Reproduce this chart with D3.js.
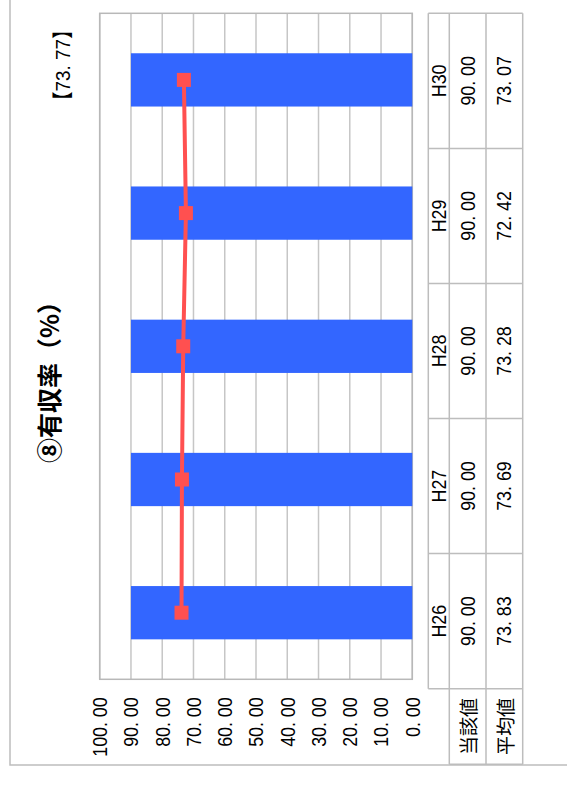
<!DOCTYPE html>
<html><head><meta charset="utf-8">
<script src="https://cdn.jsdelivr.net/npm/d3@7"></script>
<style>
html,body{margin:0;padding:0;background:#fff;}
text{white-space:pre;}
</style></head>
<body>
<svg id="chart" width="567" height="795"></svg>
<script>
const categories = ["H26", "H27", "H28", "H29", "H30"];
const currentValues = [90.00, 90.00, 90.00, 90.00, 90.00];
const averageValues = [73.83, 73.69, 73.28, 72.42, 73.07];
const tickValues = [0, 10, 20, 30, 40, 50, 60, 70, 80, 90, 100];
const rowLabels = ["当該値", "平均値"];
const titleText = "⑧有収率（%）";
const referenceValue = 73.77;

const W = 795, H = 567;
const fontLatin = '"Liberation Sans", Arial, "Noto Sans CJK JP", sans-serif';
const fontCJK = '"Noto Sans CJK JP", "Liberation Sans", sans-serif';
const FS = 20.5, SX = 0.87;
const fmt = v => d3.format(".2f")(v).replace(".", ". ");

const svg = d3.select("#chart");
const g = svg.append("g").attr("transform", `translate(0,${W}) rotate(-90)`);

// outer frame
g.append("rect").attr("x", 30).attr("y", 10).attr("width", 800).attr("height", 600)
  .attr("fill", "none").attr("stroke", "#bdbdbd").attr("stroke-width", 1.5);

const plot = {left: 115.7, right: 781.7, top: 99.7, bottom: 412.3};
const x = d3.scaleBand().domain(categories).range([plot.left, plot.right])
  .paddingInner(0.6).paddingOuter(0.3);
const y = d3.scaleLinear().domain([0, 100]).range([plot.bottom, plot.top]);

// gridlines
g.append("g").selectAll("line").data(tickValues).join("line")
  .attr("x1", plot.left).attr("x2", plot.right)
  .attr("y1", d => y(d)).attr("y2", d => y(d))
  .attr("stroke", "#c6c6c6").attr("stroke-width", 1.5);
// plot border
g.append("rect").attr("x", plot.left).attr("y", plot.top)
  .attr("width", plot.right - plot.left).attr("height", plot.bottom - plot.top)
  .attr("fill", "none").attr("stroke", "#b8b8b8").attr("stroke-width", 1.5);

// bars
g.append("g").selectAll("rect").data(currentValues).join("rect")
  .attr("x", (d, i) => x(categories[i])).attr("width", x.bandwidth())
  .attr("y", d => y(d)).attr("height", d => y(0) - y(d))
  .attr("fill", "#3366ff");

// line
const pts = averageValues.map((v, i) => [x(categories[i]) + x.bandwidth() / 2, y(v)]);
g.append("path").attr("d", d3.line()(pts)).attr("fill", "none")
  .attr("stroke", "#ff5050").attr("stroke-width", 4);
g.append("g").selectAll("rect").data(pts).join("rect")
  .attr("x", d => d[0] - 7).attr("y", d => d[1] - 7).attr("width", 14).attr("height", 14)
  .attr("fill", "#ff5050");

// y axis
const yAxis = d3.axisLeft(y).tickValues(tickValues).tickFormat(fmt).tickSize(0).tickPadding(18);
const ya = g.append("g").attr("transform", `translate(${plot.left},0)`).call(yAxis);
ya.select(".domain").remove();
ya.selectAll("text").attr("font-family", fontLatin).attr("font-size", FS).attr("fill", "#000")
  .attr("x", -18 / SX).attr("dy", null).attr("dominant-baseline", "central")
  .attr("transform", `scale(${SX},1)`);

// title
g.append("text").attr("x", 419).attr("y", 48).attr("text-anchor", "middle")
  .attr("dominant-baseline", "central")
  .attr("font-family", fontCJK).attr("font-weight", "bold").attr("font-size", 25)
  .text(titleText);
g.append("text").attr("transform", `translate(775,63) scale(0.9,1)`).attr("text-anchor", "end")
  .attr("dominant-baseline", "central")
  .attr("font-family", fontLatin).attr("font-size", 21)
  .text("【" + fmt(referenceValue) + "】");

// data table
const xt = d3.scaleBand().domain(categories).range([106.3, 781.7]);
const rows = [428.3, 449.3, 486, 522.7];
const headLeft = 30.7;
const tg = g.append("g").attr("stroke", "#bdbdbd").attr("stroke-width", 1.5);
tg.append("line").attr("x1", xt.range()[0]).attr("x2", xt.range()[1]).attr("y1", rows[0]).attr("y2", rows[0]);
[1, 2, 3].forEach(r => tg.append("line").attr("x1", headLeft).attr("x2", xt.range()[1]).attr("y1", rows[r]).attr("y2", rows[r]));
categories.forEach(c => tg.append("line").attr("x1", xt(c)).attr("x2", xt(c)).attr("y1", rows[0]).attr("y2", rows[3]));
tg.append("line").attr("x1", xt.range()[1]).attr("x2", xt.range()[1]).attr("y1", rows[0]).attr("y2", rows[3]);
tg.append("line").attr("x1", headLeft).attr("x2", headLeft).attr("y1", rows[1]).attr("y2", rows[3]);

const tt = g.append("g").attr("font-family", fontLatin).attr("font-size", FS)
  .attr("text-anchor", "middle").attr("dominant-baseline", "central");
const series = [categories, currentValues.map(fmt), averageValues.map(fmt)];
series.forEach((arr, r) => {
  tt.selectAll(null).data(arr).join("text")
    .attr("transform", (d, i) => `translate(${xt(categories[i]) + xt.bandwidth() / 2},${(rows[r] + rows[r + 1]) / 2}) scale(${SX},1)`)
    .text(d => d);
});
rowLabels.forEach((lab, r) => {
  tt.append("text").attr("x", (headLeft + xt.range()[0]) / 2)
    .attr("y", (rows[r + 1] + rows[r + 2]) / 2)
    .attr("font-family", fontCJK).attr("font-size", 19).text(lab);
});
</script>
</body></html>
